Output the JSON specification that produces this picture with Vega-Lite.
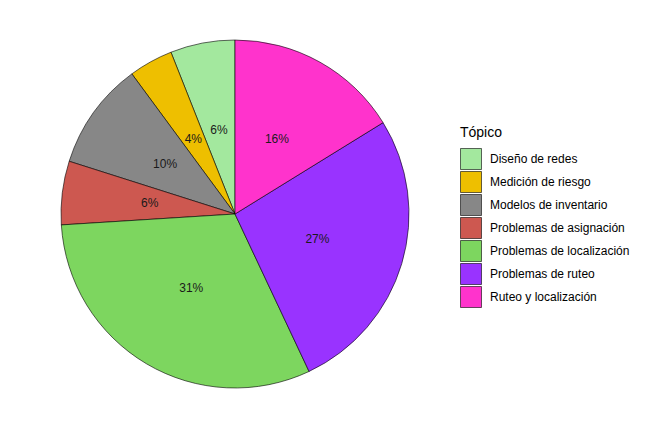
{
  "$schema": "https://vega.github.io/schema/vega-lite/v6.json",
  "width": 348,
  "height": 348,
  "padding": {"left": 59, "top": 38, "right": 0, "bottom": 0},
  "background": "white",
  "view": {"stroke": null},
  "config": {"font": "Liberation Sans"},
  "data": {
    "values": [
      {"Tópico": "Diseño de redes", "valor": 6.0, "etiqueta": "6%"},
      {"Tópico": "Medición de riesgo", "valor": 4.1, "etiqueta": "4%"},
      {"Tópico": "Modelos de inventario", "valor": 10.0, "etiqueta": "10%"},
      {"Tópico": "Problemas de asignación", "valor": 5.9, "etiqueta": "6%"},
      {"Tópico": "Problemas de localización", "valor": 31.0, "etiqueta": "31%"},
      {"Tópico": "Problemas de ruteo", "valor": 26.8, "etiqueta": "27%"},
      {"Tópico": "Ruteo y localización", "valor": 16.2, "etiqueta": "16%"}
    ]
  },
  "encoding": {
    "theta": {"field": "valor", "type": "quantitative", "stack": true},
    "order": {"field": "Tópico", "sort": "descending"}
  },
  "layer": [
    {
      "mark": {"type": "arc", "radius": 174, "stroke": "black", "strokeWidth": 0.6},
      "encoding": {
        "color": {
          "field": "Tópico",
          "type": "nominal",
          "scale": {
            "domain": ["Diseño de redes", "Medición de riesgo", "Modelos de inventario", "Problemas de asignación", "Problemas de localización", "Problemas de ruteo", "Ruteo y localización"],
            "range": ["#A3E89E", "#EEBF00", "#878787", "#CD5850", "#7DD65F", "#9933FF", "#FF33CC"]
          },
          "legend": {
            "orient": "none",
            "legendX": 399,
            "legendY": 86,
            "padding": 0,
            "title": "Tópico",
            "titleFontSize": 14,
            "titleFontWeight": "normal",
            "titleColor": "black",
            "titlePadding": 8,
            "labelFontSize": 12,
            "labelColor": "black",
            "labelOffset": 8,
            "symbolType": "square",
            "symbolSize": 441,
            "symbolStrokeColor": "black",
            "symbolStrokeWidth": 0.6,
            "symbolOpacity": 1,
            "rowPadding": -1
          }
        }
      }
    },
    {
      "mark": {"type": "text", "radius": 86, "fontSize": 12, "color": "#1a1a1a"},
      "encoding": {
        "detail": {"field": "Tópico", "type": "nominal"},
        "text": {"field": "etiqueta", "type": "nominal"}
      }
    }
  ]
}
